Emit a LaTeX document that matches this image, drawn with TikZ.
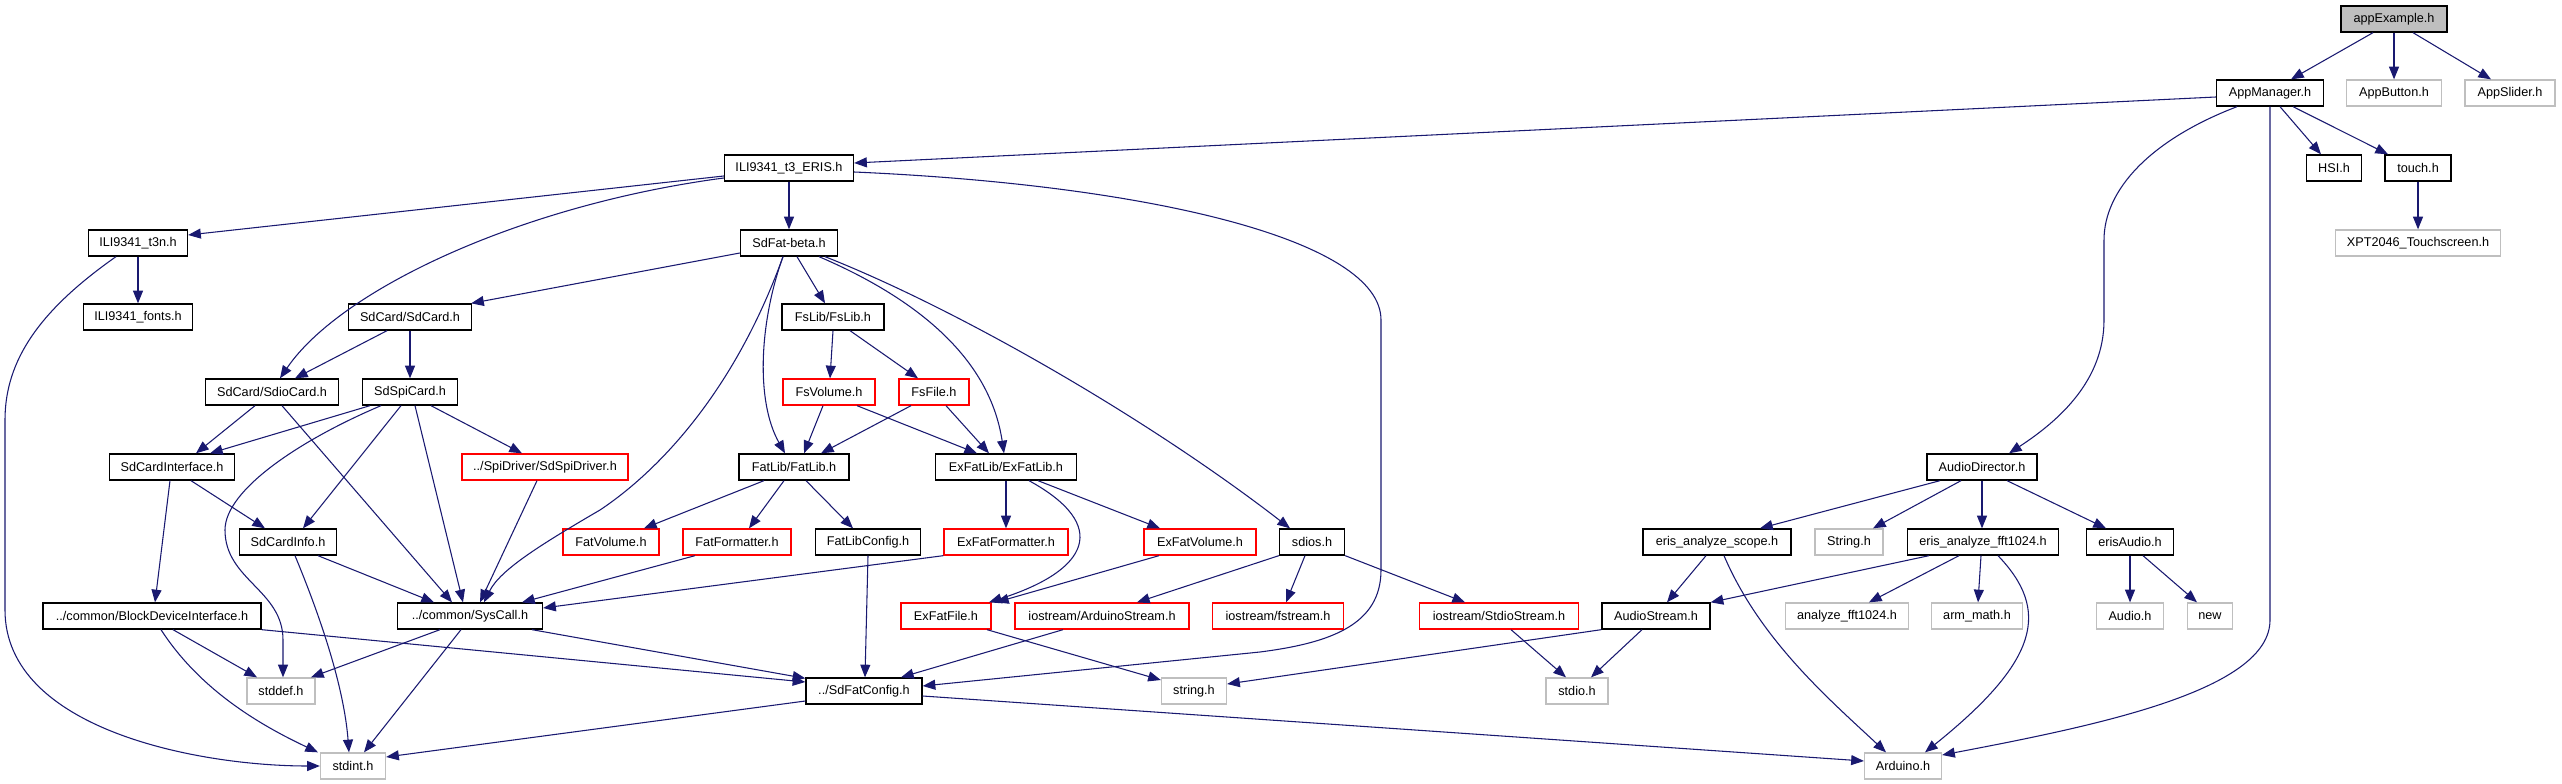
\documentclass[tikz,border=0pt]{standalone}
\usepackage{fontspec}
\setmainfont{Liberation Sans}
\usetikzlibrary{arrows.meta,calc}
\definecolor{edgeblue}{HTML}{191970}
\definecolor{extgray}{HTML}{BFBFBF}
\definecolor{trunc}{HTML}{FF0000}
\begin{document}
\begin{tikzpicture}[x=0.75pt,y=-0.75pt,
  box/.style={draw=black,line width=1pt,fill=white,minimum height=19.5pt,inner sep=0pt,font=\fontsize{9.5pt}{11pt}\selectfont},
  bw/.style={minimum width=#1*0.75pt},
  gbox/.style={box,draw=extgray},
  rbox/.style={box,draw=trunc},
  rootbox/.style={box,fill=extgray},
  dep/.style={draw=edgeblue,line width=0.8pt,-{Triangle[length=9.5pt,width=7.5pt]},fill=none}]
\useasboundingbox (0,0) rectangle (2562,784);
% rank 0
\node[rootbox,bw=106] (root) at (2394,19) {appExample.h};
% rank 1
\node[box,bw=107] (am) at (2270,93) {AppManager.h};
\node[gbox,bw=95] (abtn) at (2394,93) {AppButton.h};
\node[gbox,bw=90] (asl) at (2510,93) {AppSlider.h};
% rank 2
\node[box,bw=129] (eris) at (789,168) {ILI9341\_t3\_ERIS.h};
\node[box,bw=55] (hsi) at (2334,168) {HSI.h};
\node[box,bw=66] (touch) at (2418,168) {touch.h};
% rank 3
\node[box,bw=99] (t3n) at (138,243) {ILI9341\_t3n.h};
\node[box,bw=97] (sdfat) at (789,243) {SdFat-beta.h};
\node[gbox,bw=165] (xpt) at (2418,243) {XPT2046\_Touchscreen.h};
% rank 4
\node[box,bw=109] (fonts) at (138,317) {ILI9341\_fonts.h};
\node[box,bw=123] (sdcard) at (410,317) {SdCard/SdCard.h};
\node[box,bw=102] (fslib) at (833,317) {FsLib/FsLib.h};
% rank 5
\node[box,bw=133] (sdio) at (272,392) {SdCard/SdioCard.h};
\node[box,bw=95] (spicard) at (410,392) {SdSpiCard.h};
\node[rbox,bw=92] (fsvol) at (829,392) {FsVolume.h};
\node[rbox,bw=70] (fsfile) at (934,392) {FsFile.h};
% rank 6
\node[box,bw=125] (sdif) at (172,467) {SdCardInterface.h};
\node[rbox,bw=166] (spidrv) at (545,467) {../SpiDriver/SdSpiDriver.h};
\node[box,bw=110] (fatlib) at (794,467) {FatLib/FatLib.h};
\node[box,bw=141] (exfatlib) at (1006,467) {ExFatLib/ExFatLib.h};
\node[box,bw=110] (audiodir) at (1982,467) {AudioDirector.h};
% rank 7
\node[box,bw=97] (sdinfo) at (288,542) {SdCardInfo.h};
\node[rbox,bw=96] (fatvol) at (611,542) {FatVolume.h};
\node[rbox,bw=108] (fatfmt) at (737,542) {FatFormatter.h};
\node[box,bw=105] (fatcfg) at (868,542) {FatLibConfig.h};
\node[rbox,bw=124] (exfmt) at (1006,542) {ExFatFormatter.h};
\node[rbox,bw=112] (exvol) at (1200,542) {ExFatVolume.h};
\node[box,bw=65] (sdios) at (1312,542) {sdios.h};
\node[box,bw=148] (scope) at (1717,542) {eris\_analyze\_scope.h};
\node[gbox,bw=68] (Str) at (1849,542) {String.h};
\node[box,bw=151] (fft) at (1983,542) {eris\_analyze\_fft1024.h};
\node[box,bw=87] (erisaudio) at (2130,542) {erisAudio.h};
% rank 8
\node[box,bw=218] (bdi) at (152,616) {../common/BlockDeviceInterface.h};
\node[box,bw=145] (syscall) at (470,616) {../common/SysCall.h};
\node[rbox,bw=90] (exfile) at (946,616) {ExFatFile.h};
\node[rbox,bw=174] (ardstream) at (1102,616) {iostream/ArduinoStream.h};
\node[rbox,bw=131] (fstream) at (1278,616) {iostream/fstream.h};
\node[rbox,bw=159] (stdiostream) at (1499,616) {iostream/StdioStream.h};
\node[box,bw=108] (audiostream) at (1656,616) {AudioStream.h};
\node[gbox,bw=123] (anafft) at (1847,616) {analyze\_fft1024.h};
\node[gbox,bw=91] (armmath) at (1977,616) {arm\_math.h};
\node[gbox,bw=67] (audioh) at (2130,616) {Audio.h};
\node[gbox,bw=45] (newh) at (2210,616) {new};
% rank 9
\node[gbox,bw=68] (stddef) at (281,691) {stddef.h};
\node[box,bw=116] (cfg) at (864,691) {../SdFatConfig.h};
\node[gbox,bw=65] (stringh) at (1194,691) {string.h};
\node[gbox,bw=62] (stdio) at (1577,691) {stdio.h};
% rank 10
\node[gbox,bw=65] (stdint) at (353,766) {stdint.h};
\node[gbox,bw=77] (arduino) at (1903,766) {Arduino.h};

% edges
\draw[dep] ($(root.south)+(-21,0)$) -- ($(am.north)+(21,0)$);
\draw[dep] (root.south) -- (abtn.north);
\draw[dep] ($(root.south)+(19,0)$) -- ($(asl.north)+(-19,0)$);
\draw[dep] ($(am.west)+(0,4)$) -- ($(eris.east)+(0,-5)$);
\draw[dep] ($(am.south)+(10,0)$) -- ($(hsi.north)+(-13,0)$);
\draw[dep] ($(am.south)+(23,0)$) -- ($(touch.north)+(-30,0)$);
\draw[dep] ($(am.south)+(-33,0)$) .. controls (2150,140) and (2104,190) .. (2104,240) -- (2104,320) .. controls (2104,380) and (2060,420) .. ($(audiodir.north)+(27,0)$);
\draw[dep] (am.south) -- (2270,620) .. controls (2270,690) and (2100,725) .. ($(arduino.east)+(0,-11)$);
\draw[dep] (touch.south) -- (xpt.north);
\draw[dep] ($(eris.west)+(0,8)$) -- ($(t3n.east)+(0,-8)$);
\draw[dep] ($(eris.west)+(0,10)$) .. controls (520,205) and (340,290) .. ($(sdio.north)+(8,0)$);
\draw[dep] (eris.south) -- (sdfat.north);
\draw[dep] ($(eris.east)+(0,4)$) .. controls (1150,185) and (1381,240) .. (1381,320) -- (1381,570) .. controls (1381,625) and (1330,643) .. (1260,652) -- ($(cfg.east)+(0,-5)$);
\draw[dep] (t3n.south) -- (fonts.north);
\draw[dep] ($(t3n.south)+(-22,0)$) .. controls (40,310) and (5,360) .. (5,420) -- (5,610) .. controls (5,730) and (200,766) .. (stdint.west);
\draw[dep] ($(sdfat.west)+(0,10)$) -- ($(sdcard.north east)+(-1,0)$);
\draw[dep] ($(sdfat.south)+(8,0)$) -- ($(fslib.north)+(-8,0)$);
\draw[dep] ($(sdfat.south)+(-6,0)$) .. controls (760,320) and (755,400) .. ($(fatlib.north)+(-9,0)$);
\draw[dep] ($(sdfat.south)+(-6,0)$) .. controls (735,390) and (660,470) .. (600,510) .. controls (540,545) and (500,570) .. ($(syscall.north)+(14,0)$);
\draw[dep] ($(sdfat.south)+(30,0)$) .. controls (920,300) and (990,360) .. ($(exfatlib.north)+(-2,0)$);
\draw[dep] ($(sdfat.south)+(36,0)$) .. controls (960,310) and (1150,420) .. ($(sdios.north)+(-22,0)$);
\draw[dep] ($(sdcard.south)+(-23,0)$) -- ($(sdio.north)+(23,0)$);
\draw[dep] (sdcard.south) -- (spicard.north);
\draw[dep] ($(sdio.south)+(-17,0)$) -- ($(sdif.north)+(24,0)$);
\draw[dep] ($(sdio.south)+(10,0)$) -- ($(syscall.north)+(-18,0)$);
\draw[dep] ($(spicard.south)+(-40,0)$) -- ($(sdif.north)+(38,0)$);
\draw[dep] ($(spicard.south)+(-29,0)$) .. controls (300,440) and (225,490) .. (225,530) .. controls (225,580) and (283,590) .. (283,640) -- ($(stddef.north)+(2,0)$);
\draw[dep] ($(spicard.south)+(-9,0)$) -- ($(sdinfo.north)+(15,0)$);
\draw[dep] ($(spicard.south)+(5,0)$) -- ($(syscall.north)+(-7,0)$);
\draw[dep] ($(spicard.south)+(21,0)$) -- ($(spidrv.north)+(-23,0)$);
\draw[dep] ($(sdif.south)+(-2,0)$) -- ($(bdi.north)+(3,0)$);
\draw[dep] ($(sdif.south)+(19,0)$) -- ($(sdinfo.north)+(-23,0)$);
\draw[dep] ($(spidrv.south)+(-8,0)$) -- ($(syscall.north)+(10,0)$);
\draw[dep] ($(sdinfo.south)+(30,0)$) -- ($(syscall.north)+(-36,0)$);
\draw[dep] ($(sdinfo.south)+(7,0)$) .. controls (330,640) and (345,700) .. ($(stdint.north)+(-4,0)$);
\draw[dep] ($(bdi.south)+(21,0)$) -- ($(stddef.north)+(-24,0)$);
\draw[dep] ($(bdi.south)+(9,0)$) .. controls (200,690) and (260,725) .. ($(stdint.north)+(-35,0)$);
\draw[dep] (bdi.south east) -- ($(cfg.west)+(0,-9)$);
\draw[dep] ($(syscall.south)+(-30,0)$) -- ($(stddef.north)+(30,0)$);
\draw[dep] ($(syscall.south)+(-9,0)$) -- ($(stdint.north)+(11,0)$);
\draw[dep] ($(syscall.south)+(62,0)$) -- ($(cfg.north west)+(0,1)$);
\draw[dep] (fslib.south) -- ($(fsvol.north)+(1,0)$);
\draw[dep] ($(fslib.south)+(17,0)$) -- ($(fsfile.north)+(-16,0)$);
\draw[dep] ($(fsvol.south)+(-6,0)$) -- ($(fatlib.north)+(10,0)$);
\draw[dep] ($(fsvol.south)+(28,0)$) -- ($(exfatlib.north)+(-29,0)$);
\draw[dep] ($(fsfile.south)+(-23,0)$) -- ($(fatlib.north)+(27,0)$);
\draw[dep] ($(fsfile.south)+(12,0)$) -- ($(exfatlib.north)+(-17,0)$);
\draw[dep] ($(fatlib.south)+(-30,0)$) -- ($(fatvol.north)+(33,0)$);
\draw[dep] ($(fatlib.south)+(-10,0)$) -- ($(fatfmt.north)+(12,0)$);
\draw[dep] ($(fatlib.south)+(12,0)$) -- ($(fatcfg.north)+(-15,0)$);
\draw[dep] ($(fatfmt.south)+(-42,0)$) -- ($(syscall.north)+(52,0)$);
\draw[dep] (fatcfg.south) -- ($(cfg.north)+(1,0)$);
\draw[dep] (exfatlib.south) -- (exfmt.north);
\draw[dep] ($(exfatlib.south)+(23,0)$) .. controls (1110,525) and (1090,570) .. ($(exfile.north)+(43,0)$);
\draw[dep] ($(exfatlib.south)+(32,0)$) -- ($(exvol.north)+(-40,0)$);
\draw[dep] (exfmt.south west) -- ($(syscall.east)+(0,-8)$);
\draw[dep] ($(exvol.south)+(-41,0)$) -- ($(exfile.north)+(50,0)$);
\draw[dep] ($(exfile.south)+(41,0)$) -- ($(stringh.west)+(0,-11)$);
\draw[dep] (sdios.south west) -- ($(ardstream.north)+(35,0)$);
\draw[dep] ($(sdios.south)+(-7,0)$) -- ($(fstream.north)+(8,0)$);
\draw[dep] (sdios.south east) -- ($(stdiostream.north)+(-34,0)$);
\draw[dep] ($(ardstream.south)+(-39,0)$) -- ($(cfg.north)+(37,0)$);
\draw[dep] ($(stdiostream.south)+(12,0)$) -- ($(stdio.north)+(-11,0)$);
\draw[dep] ($(cfg.west)+(0,10)$) -- ($(stdint.east)+(0,-9)$);
\draw[dep] ($(cfg.east)+(0,5)$) -- ($(arduino.west)+(0,-5)$);
\draw[dep] ($(audiodir.south)+(-42,0)$) -- ($(scope.north)+(43,0)$);
\draw[dep] ($(audiodir.south)+(-21,0)$) -- ($(Str.north)+(24,0)$);
\draw[dep] (audiodir.south) -- ($(fft.north)+(-1,0)$);
\draw[dep] ($(audiodir.south)+(25,0)$) -- ($(erisaudio.north)+(-24,0)$);
\draw[dep] ($(scope.south)+(-11,0)$) -- ($(audiostream.north)+(11,0)$);
\draw[dep] ($(scope.south)+(7,0)$) .. controls (1760,640) and (1830,700) .. ($(arduino.north)+(-17,0)$);
\draw[dep] ($(fft.south)+(-54,0)$) -- (audiostream.north east);
\draw[dep] ($(fft.south)+(-24,0)$) -- ($(anafft.north)+(22,0)$);
\draw[dep] ($(fft.south)+(-2,0)$) -- ($(armmath.north)+(1,0)$);
\draw[dep] ($(fft.south)+(15,0)$) .. controls (2050,610) and (2040,660) .. ($(arduino.north)+(22,0)$);
\draw[dep] (erisaudio.south) -- (audioh.north);
\draw[dep] ($(erisaudio.south)+(13,0)$) -- ($(newh.north)+(-13,0)$);
\draw[dep] ($(audiostream.south)+(-14,0)$) -- ($(stdio.north)+(14,0)$);
\draw[dep] (audiostream.south west) -- ($(stringh.east)+(0,-7)$);
\end{tikzpicture}
\end{document}
